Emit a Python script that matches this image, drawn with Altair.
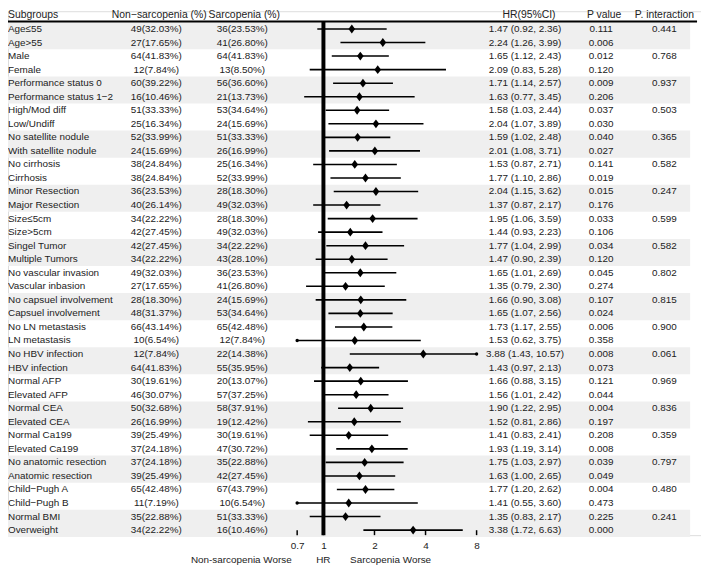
import altair as alt
import pandas as pd

subgroups = ["Age≤55", "Age>55", "Male", "Female", "Performance status 0", "Performance status 1−2",
             "High/Mod diff", "Low/Undiff", "No satellite nodule", "With satellite nodule",
             "No cirrhosis", "Cirrhosis", "Minor Resection", "Major Resection", "Size≤5cm", "Size>5cm",
             "Singel Tumor", "Multiple Tumors", "No vascular invasion", "Vascular inbasion",
             "No capsuel involvement", "Capsuel involvement", "No LN metastasis", "LN metastasis",
             "No HBV infection", "HBV infection", "Normal AFP", "Elevated AFP", "Normal CEA", "Elevated CEA",
             "Normal Ca199", "Elevated Ca199", "No anatomic resection", "Anatomic resection",
             "Child−Pugh A", "Child−Pugh B", "Normal BMI", "Overweight"]

non_sarc = ["49(32.03%)", "27(17.65%)", "64(41.83%)", "12(7.84%)", "60(39.22%)", "16(10.46%)",
            "51(33.33%)", "25(16.34%)", "52(33.99%)", "24(15.69%)", "38(24.84%)", "38(24.84%)",
            "36(23.53%)", "40(26.14%)", "34(22.22%)", "42(27.45%)", "42(27.45%)", "34(22.22%)",
            "49(32.03%)", "27(17.65%)", "28(18.30%)", "48(31.37%)", "66(43.14%)", "10(6.54%)",
            "12(7.84%)", "64(41.83%)", "30(19.61%)", "46(30.07%)", "50(32.68%)", "26(16.99%)",
            "39(25.49%)", "37(24.18%)", "37(24.18%)", "39(25.49%)", "65(42.48%)", "11(7.19%)",
            "35(22.88%)", "34(22.22%)"]

sarc = ["36(23.53%)", "41(26.80%)", "64(41.83%)", "13(8.50%)", "56(36.60%)", "21(13.73%)",
        "53(34.64%)", "24(15.69%)", "51(33.33%)", "26(16.99%)", "25(16.34%)", "52(33.99%)",
        "28(18.30%)", "49(32.03%)", "28(18.30%)", "49(32.03%)", "34(22.22%)", "43(28.10%)",
        "36(23.53%)", "41(26.80%)", "24(15.69%)", "53(34.64%)", "65(42.48%)", "12(7.84%)",
        "22(14.38%)", "55(35.95%)", "20(13.07%)", "57(37.25%)", "58(37.91%)", "19(12.42%)",
        "30(19.61%)", "47(30.72%)", "35(22.88%)", "42(27.45%)", "67(43.79%)", "10(6.54%)",
        "51(33.33%)", "16(10.46%)"]

hr = [1.47, 2.24, 1.65, 2.09, 1.71, 1.63, 1.58, 2.04, 1.59, 2.01, 1.53, 1.77, 2.04, 1.37, 1.95, 1.44,
      1.77, 1.47, 1.65, 1.35, 1.66, 1.65, 1.73, 1.53, 3.88, 1.43, 1.66, 1.56, 1.90, 1.52, 1.41, 1.93,
      1.75, 1.63, 1.77, 1.41, 1.35, 3.38]
lo = [0.92, 1.26, 1.12, 0.83, 1.14, 0.77, 1.03, 1.07, 1.02, 1.08, 0.87, 1.10, 1.15, 0.87, 1.06, 0.93,
      1.04, 0.90, 1.01, 0.79, 0.90, 1.07, 1.17, 0.62, 1.43, 0.97, 0.88, 1.01, 1.22, 0.81, 0.83, 1.19,
      1.03, 1.00, 1.20, 0.55, 0.83, 1.72]
hi = [2.36, 3.99, 2.43, 5.28, 2.57, 3.45, 2.44, 3.89, 2.48, 3.71, 2.71, 2.86, 3.62, 2.17, 3.59, 2.23,
      2.99, 2.39, 2.69, 2.30, 3.08, 2.56, 2.55, 3.75, 10.57, 2.13, 3.15, 2.42, 2.95, 2.86, 2.41, 3.14,
      2.97, 2.65, 2.62, 3.60, 2.17, 6.63]
pval = ["0.111", "0.006", "0.012", "0.120", "0.009", "0.206", "0.037", "0.030", "0.040", "0.027",
        "0.141", "0.019", "0.015", "0.176", "0.033", "0.106", "0.034", "0.120", "0.045", "0.274",
        "0.107", "0.024", "0.006", "0.358", "0.008", "0.073", "0.121", "0.044", "0.004", "0.197",
        "0.208", "0.008", "0.039", "0.049", "0.004", "0.473", "0.225", "0.000"]
pint = ["0.441", "", "0.768", "", "0.937", "", "0.503", "", "0.365", "", "0.582", "", "0.247", "",
        "0.599", "", "0.582", "", "0.802", "", "0.815", "", "0.900", "", "0.061", "", "0.969", "",
        "0.836", "", "0.359", "", "0.797", "", "0.480", "", "0.241", ""]

headers = ["Subgroups", "Non−sarcopenia (%)", "Sarcopenia (%)", "HR(95%CI)", "P value", "P. interaction"]
tick_vals = [0.7, 1, 2, 4, 8]
bottom_labels = ["Non-sarcopenia Worse", "HR", "Sarcopenia Worse"]

n = len(subgroups)
df = pd.DataFrame({
    "row": list(range(n)), "sub": subgroups, "ns": non_sarc, "s": sarc,
    "hr": hr, "lo": lo, "hi": hi, "p": pval, "pi": pint,
})
df["hrtxt"] = [f"{a:.2f} ({b:.2f}, {c:.2f})" for a, b, c in zip(hr, lo, hi)]

bands = pd.DataFrame({"start": [r for r in range(0, n, 4)]})
bands["y0"] = bands["start"] - 0.5
bands["y1"] = bands["start"] + 1.5

FONT = "Liberation Sans"
TXT = "#222222"
ROW0, STEP = 18, 13.7
AXIS_Y = 530
yscale = alt.Scale(domain=[0, n - 1], range=[ROW0, ROW0 + STEP * (n - 1)], nice=False, zero=False)
xscale = alt.Scale(type="log", domain=[0.7, 8], range=[292.5, 474], clamp=True, nice=False)
xaxis = alt.Axis(values=tick_vals, format="~g", ticks=False, domainColor="black", domainWidth=1.5,
                 labelFontSize=10, labelColor=TXT, labelFont=FONT, labelPadding=6, grid=False,
                 title=None, labelFlush=False)


def X(field):
    return alt.X(field, type="quantitative", scale=xscale, axis=xaxis)


Y = alt.Y("row:Q", scale=yscale, axis=None)

base = alt.Chart(df)

band_layer = alt.Chart(bands).mark_rect(color="#efefef").encode(
    x=alt.value(0), x2=alt.value(690),
    y=alt.Y("y0:Q", scale=yscale, axis=None), y2="y1:Q")

top_line = alt.Chart(pd.DataFrame({"h": [0]})).mark_rule(color="black", strokeWidth=2).encode(
    x=alt.value(0), x2=alt.value(697), y=alt.value(10.5))

ref_line = alt.Chart(pd.DataFrame({"v": [1]})).mark_rule(color="black", strokeWidth=4).encode(
    x=X("v"), y=alt.value(10.5), y2=alt.value(AXIS_Y))

ticks = alt.Chart(pd.DataFrame({"t": tick_vals})).mark_rule(color="black", strokeWidth=1.5).encode(
    x=X("t"), y=alt.value(AXIS_Y - 5), y2=alt.value(AXIS_Y))

whisk = base.mark_rule(color="black", strokeWidth=1.6).encode(x=X("lo"), x2="hi", y=Y)
diam = base.mark_point(shape="M0,-1L0.75,0L0,1L-0.75,0Z", filled=True, color="black", size=80,
                       opacity=1).encode(x=X("hr"), y=Y)
lodot = base.transform_filter("datum.lo < 0.7").mark_circle(color="black", size=12, opacity=1).encode(
    x=X("lo"), y=Y)
hidot = base.transform_filter("datum.hi > 8").mark_circle(color="black", size=12, opacity=1).encode(
    x=X("hi"), y=Y)


def col(field, xpos, align):
    return base.mark_text(font=FONT, fontSize=10, color=TXT, align=align, baseline="middle").encode(
        x=alt.value(xpos), y=Y, text=f"{field}:N")


cols = [col("sub", 0, "left"), col("ns", 150, "center"), col("s", 237, "center"),
        col("hrtxt", 523, "center"), col("p", 600, "center"), col("pi", 664, "center")]

hdf = pd.DataFrame({"h": headers, "hx": [0, 153, 239, 527, 603, 664],
                    "al": ["left", "center", "center", "center", "center", "center"]})
head_layers = []
for _, r in hdf.iterrows():
    head_layers.append(
        alt.Chart(pd.DataFrame({"h": [r["h"]]})).mark_text(
            font=FONT, fontSize=10.5, color=TXT, align=r["al"], baseline="middle").encode(
            x=alt.value(float(r["hx"])), y=alt.value(4), text="h:N"))

bl = []
for lab, xp in zip(bottom_labels, [236, 319, 387]):
    bl.append(alt.Chart(pd.DataFrame({"b": [lab]})).mark_text(
        font=FONT, fontSize=10, color=TXT, align="center", baseline="middle").encode(
        x=alt.value(xp), y=alt.value(AXIS_Y + 25), text="b:N"))

chart = alt.layer(band_layer, top_line, whisk, lodot, hidot, diam, ref_line, ticks,
                  *cols, *head_layers, *bl).properties(
    width=701, height=AXIS_Y, padding={"left": 0, "top": 0, "right": 0, "bottom": 31},
    autosize=alt.AutoSizeParams(type="none"),
).configure_view(stroke=None).configure(background="white")

chart.save("out.html", embed_options={"renderer": "svg", "actions": False})
